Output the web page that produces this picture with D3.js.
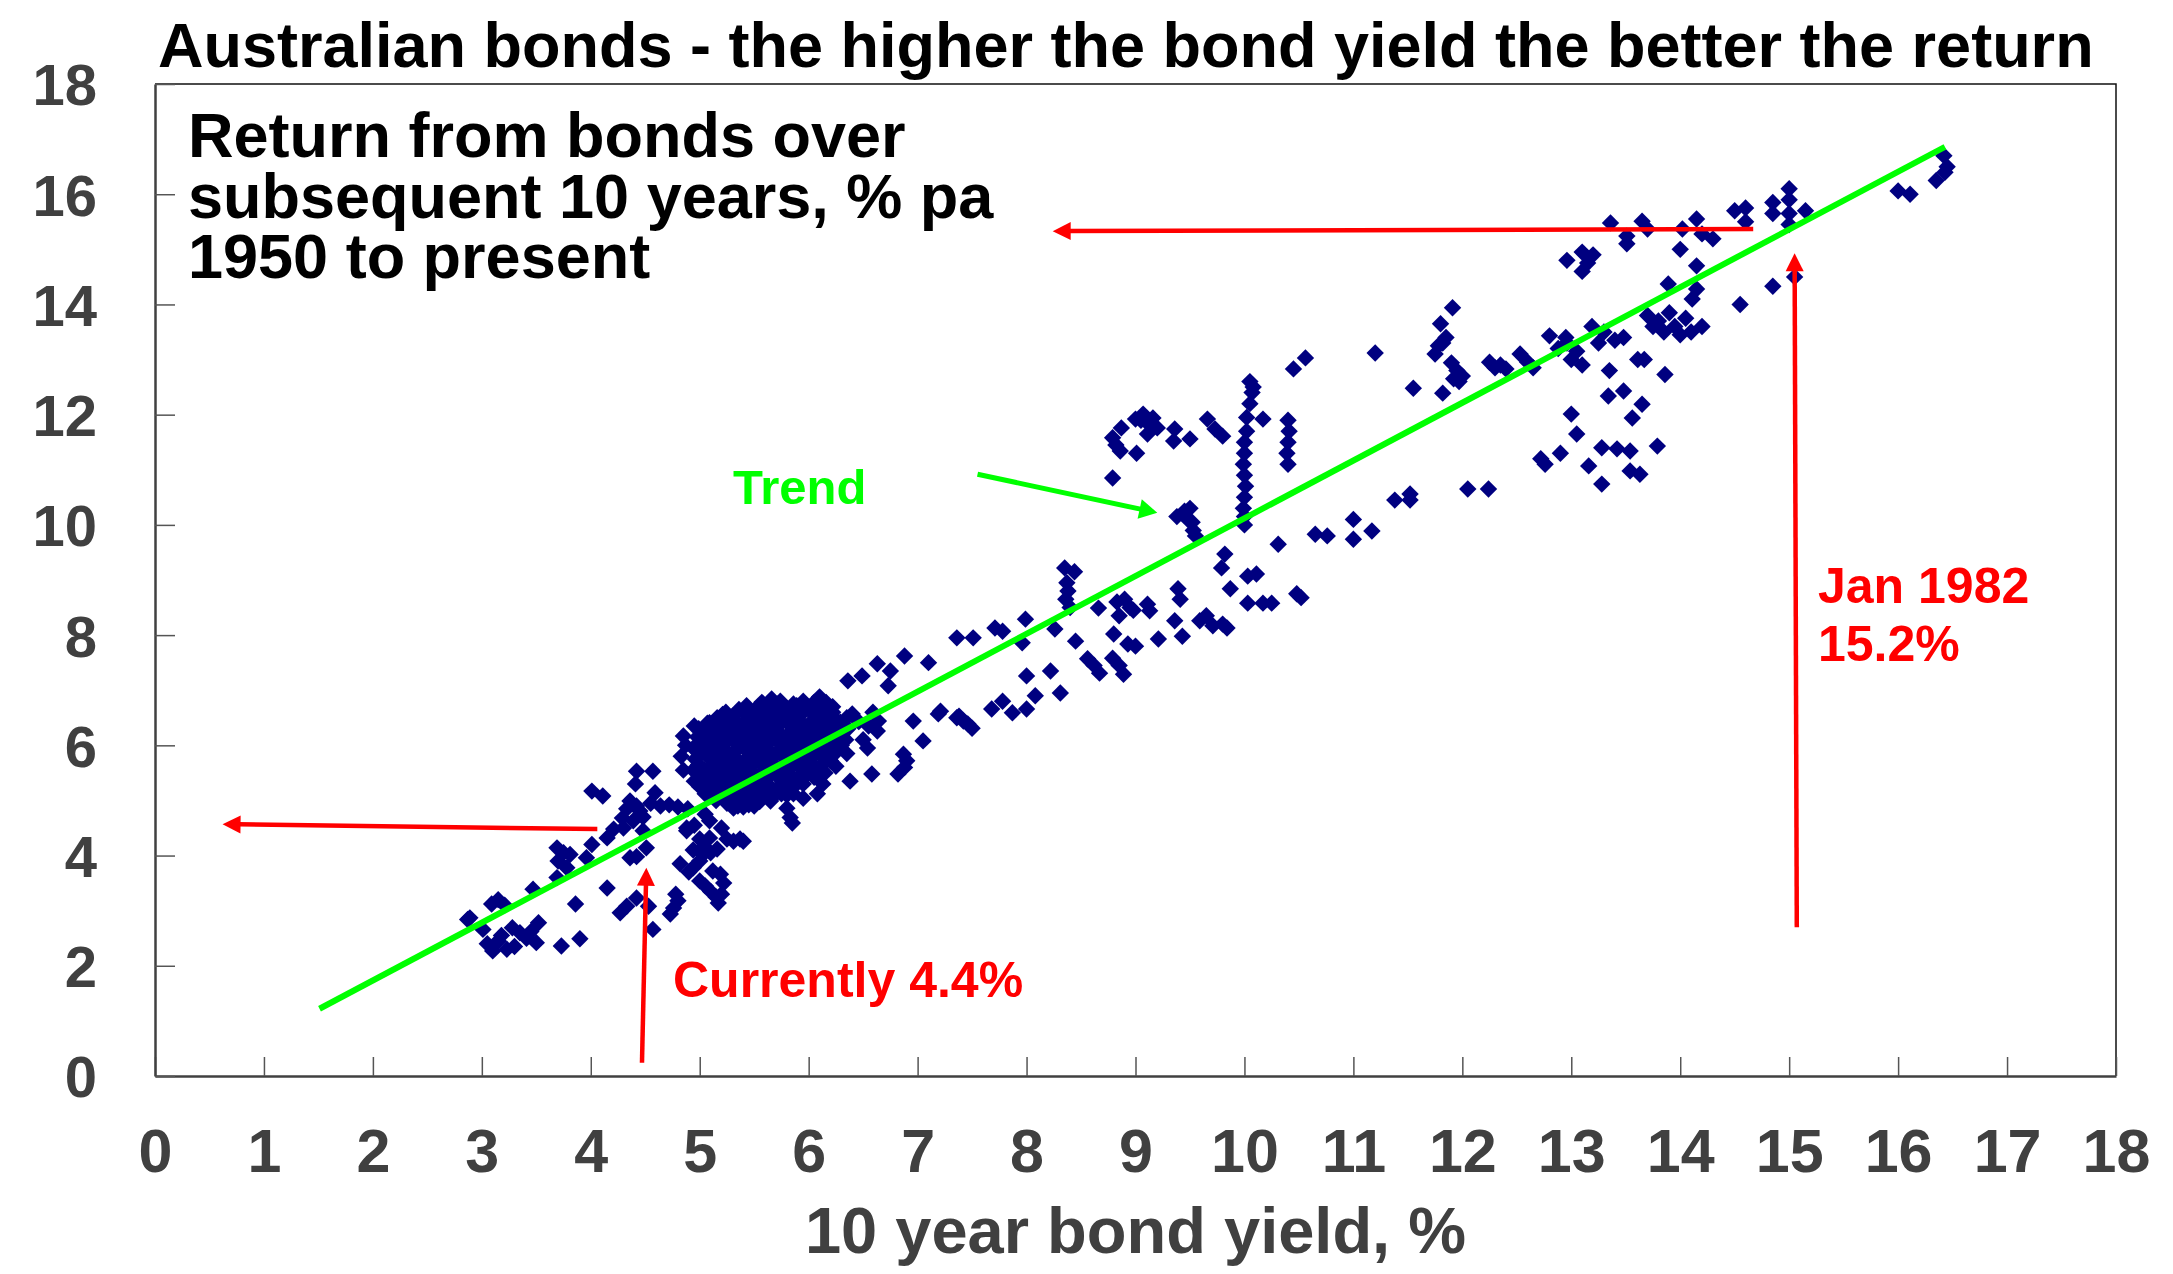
<!DOCTYPE html>
<html><head><meta charset="utf-8">
<script src="https://cdn.jsdelivr.net/npm/d3@7"></script>
<style>
html,body{margin:0;padding:0;background:#fff;}
svg{display:block;font-family:"Liberation Sans",Arial,Helvetica,sans-serif;font-weight:bold;}
</style>
</head><body>
<svg id="chart" width="2173" height="1274"></svg>
<script>
// ---------------- text ----------------
const chartTitle = "Australian bonds - the higher the bond yield the better the return";
const subtitleLines = ["Return from bonds over", "subsequent 10 years, % pa", "1950 to present"];
const xAxisTitle = "10 year bond yield, %";
const trendLabel = "Trend";
const currentLabel = "Currently 4.4%";
const peakLabelLines = ["Jan 1982", "15.2%"];

// ---------------- ticks ----------------
const xTickValues = [0,1,2,3,4,5,6,7,8,9,10,11,12,13,14,15,16,17,18];
const yTickValues = [0,2,4,6,8,10,12,14,16,18];

// ---------------- data: [10y bond yield %, subsequent 10y return % pa] ----------------
const lowYieldPoints = [
 [2.87,2.84],[2.89,2.87],[3.01,2.66],[3.09,3.12],[3.15,3.2],[3.21,3.1],[3.10,2.27],[3.15,2.45],
 [3.23,2.30],[3.28,2.69],[3.35,2.60],[3.41,2.50],[3.50,2.42],[3.52,2.78],[3.47,3.39],[3.05,2.4],
 [3.18,2.55],[3.3,2.35],[3.45,2.62],[3.69,4.14],[3.75,4.05],[3.81,4.02],[3.70,3.90],[3.78,3.78],
 [3.69,3.60],[3.96,3.96],[4.01,4.20],[3.86,3.12],[3.73,2.36],[3.90,2.49],[4.01,5.17],[4.11,5.08],
 [4.15,3.41],[4.15,4.32],[4.21,4.48]
];
const midLowPoints = [
 [4.29,4.68],[4.36,4.99],[4.45,4.81],[4.39,4.63],[4.48,4.45],[4.51,4.14],[4.36,3.96],[4.42,3.98],
 [4.42,5.53],[4.57,5.53],[4.41,5.30],[4.59,5.14],[4.27,2.96],[4.33,3.08],[4.42,3.23],[4.53,3.08],
 [4.57,2.66],[4.73,2.94],[4.76,3.05],[4.80,3.18],[4.78,3.3],[4.64,4.90],[4.72,4.92],[4.80,4.88],
 [4.89,4.85],[4.88,4.50],[4.33,4.85],[4.42,4.9],[4.3,4.5],[4.48,4.7],[4.55,4.95],
 [4.94,4.10],[5.03,4.15],[5.10,4.05],[5.16,4.12],[5.09,4.63],[5.09,4.32],[5.31,4.26],[5.40,4.26],
 [5.25,4.30],[5.03,4.02],[4.94,3.78],[5.12,3.72],[5.19,3.66],[4.88,4.45],[5.0,3.9],[4.82,3.85],
 [4.9,3.7],[5.0,3.54],[5.05,3.45],[5.1,3.35],[5.15,3.25],[5.17,3.14],[5.2,3.3],[5.22,3.5],
 [5.0,4.3],[4.95,4.55],[5.05,4.75],[5.2,4.5],[5.37,4.3]
];
const denseClusterPoints = [
 [4.85,5.55],[4.83,5.8],[4.87,6.0],[4.85,6.17],
 [4.95,5.35],[4.94,5.55],[4.96,5.75],[4.94,5.95],[4.98,6.15],[4.95,6.35],
 [5.05,5.12],[5.06,5.35],[5.04,5.55],[5.07,5.8],[5.05,6.0],[5.03,6.2],[5.07,6.4],
 [5.15,5.0],[5.14,5.22],[5.16,5.45],[5.13,5.65],[5.17,5.88],[5.15,6.08],[5.14,6.3],[5.16,6.5],
 [5.25,4.95],[5.26,5.18],[5.24,5.4],[5.27,5.6],[5.25,5.82],[5.23,6.05],[5.26,6.25],[5.28,6.45],[5.24,6.6],
 [5.35,4.9],[5.34,5.1],[5.36,5.33],[5.35,5.55],[5.33,5.77],[5.37,6.0],[5.35,6.2],[5.34,6.42],[5.36,6.65],
 [5.45,4.92],[5.44,5.15],[5.46,5.38],[5.45,5.6],[5.47,5.82],[5.44,6.02],[5.46,6.25],[5.45,6.48],[5.43,6.72],
 [5.55,4.98],[5.56,5.2],[5.54,5.42],[5.57,5.65],[5.55,5.88],[5.53,6.1],[5.56,6.3],[5.55,6.55],[5.57,6.78],
 [5.65,5.02],[5.64,5.25],[5.66,5.48],[5.65,5.7],[5.63,5.92],[5.67,6.15],[5.65,6.38],[5.64,6.6],[5.66,6.84],
 [5.75,5.12],[5.76,5.35],[5.74,5.55],[5.77,5.78],[5.75,6.0],[5.73,6.22],[5.76,6.45],[5.75,6.65],[5.74,6.8],
 [5.85,5.22],[5.84,5.45],[5.86,5.68],[5.85,5.9],[5.83,6.12],[5.87,6.35],[5.85,6.55],[5.86,6.75],
 [5.95,5.3],[5.96,5.52],[5.94,5.75],[5.97,5.98],[5.95,6.2],[5.93,6.42],[5.96,6.62],[5.95,6.8],
 [6.05,5.42],[6.04,5.65],[6.06,5.88],[6.05,6.1],[6.03,6.32],[6.07,6.55],[6.05,6.78],[6.1,6.88],
 [6.15,5.5],[6.16,5.72],[6.14,5.95],[6.17,6.18],[6.15,6.4],[6.13,6.6],[6.16,6.78],
 [6.25,5.62],[6.24,5.85],[6.26,6.08],[6.25,6.3],[6.23,6.5],[6.22,6.7],
 [6.35,5.85],[6.34,6.1],[6.36,6.3],[6.35,6.5],
 [5.31,4.86],[5.4,4.88],[5.5,4.9],[5.65,4.99],[5.80,4.86],[5.85,4.59],[5.86,5.12],[5.95,5.04],
 [6.08,5.12],[6.13,5.30],[6.38,5.35],[6.58,5.48],[5.83,4.69],[5.58,5.22],[5.8,5.1],[6.46,6.43],[6.59,6.6]
];
const denseClusterFill = [
 [5.00,5.25],[5.01,5.46],[4.99,5.65],[5.00,5.9],[5.02,6.1],[4.99,6.3],
 [5.10,5.1],[5.11,5.33],[5.09,5.56],[5.10,5.77],[5.12,5.98],[5.10,6.2],[5.09,6.41],
 [5.20,5.08],[5.21,5.3],[5.19,5.52],[5.20,5.74],[5.22,5.95],[5.20,6.17],[5.19,6.38],[5.21,6.56],
 [5.30,5.0],[5.31,5.22],[5.29,5.44],[5.30,5.66],[5.32,5.88],[5.30,6.1],[5.29,6.32],[5.31,6.54],
 [5.40,5.02],[5.41,5.25],[5.39,5.48],[5.40,5.7],[5.42,5.92],[5.40,6.13],[5.39,6.35],[5.41,6.58],
 [5.50,5.05],[5.51,5.28],[5.49,5.5],[5.50,5.75],[5.52,5.97],[5.50,6.18],[5.49,6.4],[5.51,6.65],
 [5.60,5.1],[5.61,5.32],[5.59,5.55],[5.60,5.8],[5.62,6.02],[5.60,6.25],[5.59,6.48],[5.61,6.7],
 [5.70,5.2],[5.71,5.45],[5.69,5.62],[5.70,5.85],[5.72,6.08],[5.70,6.3],[5.69,6.55],[5.71,6.75],
 [5.80,5.3],[5.81,5.55],[5.79,5.78],[5.80,6.0],[5.82,6.22],[5.80,6.42],[5.79,6.62],
 [5.90,5.4],[5.91,5.62],[5.89,5.85],[5.90,6.08],[5.92,6.3],[5.90,6.52],[5.89,6.72],
 [6.00,5.5],[6.01,5.75],[5.99,5.95],[6.00,6.2],[6.02,6.42],[6.00,6.65],
 [6.10,5.6],[6.11,5.82],[6.09,6.05],[6.10,6.28],[6.12,6.5],[6.10,6.7],
 [6.20,5.72],[6.21,5.95],[6.19,6.18],[6.20,6.4],[6.22,6.6],
 [6.30,6.0],[6.31,6.22],[6.29,6.42]
];
const midPoints = [
 [6.36,7.17],[6.49,7.26],[6.63,7.48],[6.75,7.35],[6.73,7.08],[6.88,7.62],[7.10,7.50],[7.36,7.95],
 [6.40,6.57],[6.64,6.44],[6.63,6.26],[6.54,5.95],[6.96,6.44],[7.19,6.57],[7.36,6.50],[7.05,6.08],
 [6.87,5.84],[6.90,5.72],[6.82,5.48],[6.88,5.6],[6.5,6.1],[6.55,6.35],[7.38,6.53],[7.46,6.39],
 [7.42,6.44],[7.5,6.31],[7.21,6.62],
 [7.51,7.95],[7.71,8.13],[7.78,8.07],[7.99,8.29],[7.96,7.86],[8.26,8.11],[8.45,7.89],
 [8.35,9.22],[8.44,9.15],[8.37,8.95],[8.38,8.8],[8.36,8.65],[8.40,8.5],[8.66,8.49],[8.83,8.6],
 [8.9,8.65],[8.95,8.5],[8.85,8.35],[8.98,8.45],[9.11,8.56],[9.13,8.44],[9.39,8.84],[9.41,8.65],
 [9.36,8.26],[9.43,7.98],[9.21,7.93],[8.80,8.02],[8.93,7.84],[9.0,7.8],[8.56,7.57],[8.62,7.45],
 [8.67,7.31],[8.79,7.58],[8.89,7.29],[8.85,7.45],[8.0,7.26],[8.22,7.35],[8.31,6.95],[8.08,6.9],
 [7.78,6.8],[7.68,6.66],[7.87,6.59],[8.0,6.66],
 [9.59,8.26],[9.65,8.35],[9.71,8.17],[9.84,8.13],[9.8,8.2],[9.82,9.47],[9.79,9.22],[9.87,8.84],
 [10.03,9.07],[10.11,9.11],[10.03,8.58],[10.17,8.58],[10.25,8.58],[10.31,9.65],[10.48,8.75],[10.52,8.68],
 [10.65,9.83],[10.76,9.8],[11.0,10.1],[11.0,9.74],[11.17,9.89],[11.38,10.45],[11.52,10.56],[11.52,10.45],
 [12.05,10.65],[12.24,10.65]
];
const upperMidPoints = [
 [9.38,10.15],[9.45,10.25],[9.5,10.3],[9.52,10.05],[9.53,9.9],[9.55,9.8],[9.48,10.1],[8.79,10.85],
 [8.79,11.58],[8.86,11.34],[8.87,11.76],[9.01,11.3],[9.0,11.92],[9.07,12.01],[9.12,11.83],[9.16,11.94],
 [9.2,11.76],[9.11,11.65],[9.05,11.9],[9.36,11.74],[9.35,11.52],[9.5,11.56],[9.66,11.92],[9.73,11.74],
 [9.8,11.61],[8.82,11.45],
 [10.0,11.5],[10.0,11.3],[9.99,11.1],[10.0,10.9],[10.01,10.7],[10.0,10.5],[9.99,10.3],[10.0,10.15],
 [10.0,10.0],[10.02,11.7],[10.05,12.6],[10.07,12.4],[10.05,12.2],[10.02,11.95],[10.17,11.92],[10.08,12.5],
 [10.4,11.9],[10.41,11.7],[10.4,11.5],[10.39,11.3],[10.4,11.1],[10.45,12.83],[10.56,13.03],[11.2,13.12]
];
const highYieldPoints = [
 [11.91,13.94],[11.8,13.65],[11.85,13.4],[11.78,13.25],[11.75,13.1],[11.82,13.3],[11.9,12.94],[11.95,12.8],
 [11.92,12.65],[12.0,12.7],[11.97,12.6],[11.55,12.48],[11.82,12.39],
 [12.25,12.95],[12.3,12.85],[12.35,12.9],[12.4,12.83],[12.53,13.1],[12.6,12.95],[12.65,12.85],[12.8,13.43],
 [12.95,13.4],[12.88,13.2],[13.0,13.0],[13.05,13.15],[13.1,12.9],[12.96,13.3],[13.19,13.6],[13.3,13.5],
 [13.25,13.3],[13.4,13.35],[13.48,13.4],[13.35,12.8],[13.61,13.0],[13.67,13.0],
 [13.7,13.8],[13.8,13.7],[13.9,13.85],[13.95,13.6],[14.05,13.75],[14.1,13.5],[14.2,13.6],[13.85,13.5],
 [14.0,13.45],[13.75,13.6],[13.86,12.73],
 [13.34,12.34],[13.48,12.43],[13.65,12.19],[13.56,11.94],[13.0,12.01],[13.05,11.65],[12.9,11.3],[12.76,11.1],
 [13.28,11.4],[13.42,11.38],[13.54,11.34],[13.79,11.43],[13.16,11.07],[13.54,10.98],[13.63,10.92],[13.28,10.74],
 [12.72,11.2]
];
const peakYieldPoints = [
 [12.96,14.8],[13.1,14.95],[13.2,14.9],[13.1,14.6],[13.15,14.75],[13.36,15.48],[13.51,15.24],[13.51,15.1],
 [13.65,15.51],[13.7,15.37],[14.15,15.55],[14.02,15.37],[14.2,15.28],[14.3,15.19],[14.0,15.0],[14.5,15.7],
 [14.6,15.75],[14.6,15.5],[15.0,16.1],[14.85,15.85],[15.0,15.9],[15.15,15.7],[15.0,15.65],[14.85,15.65],
 [15.0,15.45],[16.0,16.06],[16.11,16.0],[16.42,16.7],[16.45,16.5],[16.43,16.4],[16.35,16.25],[14.15,14.7],
 [13.89,14.37],[14.15,14.28],[14.11,14.1],[14.55,14.0],[14.85,14.33],[15.05,14.5]
];

// trend line end points (yield, return)
const trendLine = [[1.51,1.22],[16.43,16.86]];

// annotation arrows in data units: [from, to(arrow tip)]
const redArrows = [
 [[4.47,0.24],[4.51,3.78]],
 [[4.06,4.48],[0.62,4.57]],
 [[15.07,2.70],[15.05,14.93]],
 [[14.67,15.37],[8.24,15.33]]
];
const greenArrow = [[7.55,10.92],[9.20,10.22]];

// ---------------- drawing ----------------
const W = 2173, H = 1274;
const plot = {left:155, right:2116, top:84, bottom:1076};
const svg = d3.select("#chart");
svg.append("rect").attr("width",W).attr("height",H).attr("fill","#fff");

const x = d3.scaleLinear().domain([0,18]).range([plot.left, plot.right]);
const y = d3.scaleLinear().domain([0,18]).range([plot.bottom, plot.top]);

// frame (top & right)
svg.append("path")
  .attr("d", `M${plot.left},${plot.top}H${plot.right}V${plot.bottom}`)
  .attr("fill","none").attr("stroke","#111").attr("stroke-width",1.5);

// x axis
const gx = svg.append("g").attr("transform",`translate(0,${plot.bottom})`)
  .call(d3.axisBottom(x).tickValues(xTickValues).tickSizeInner(-19).tickSizeOuter(0).tickFormat(d3.format("d")));
gx.select(".domain").attr("stroke","#404040").attr("stroke-width",2.5);
gx.selectAll(".tick line").attr("stroke","#555").attr("stroke-width",1.5);
gx.selectAll(".tick text").attr("y",74).attr("dy","0.36em")
  .attr("fill","#404040").style("font-size","61px").style("font-weight","bold")
  .style("font-family",'"Liberation Sans",Arial,sans-serif');

// y axis
const gy = svg.append("g").attr("transform",`translate(${plot.left},0)`)
  .call(d3.axisLeft(y).tickValues(yTickValues).tickSizeInner(-20).tickSizeOuter(0).tickFormat(d3.format("d")));
gy.select(".domain").attr("stroke","#404040").attr("stroke-width",2.5);
gy.selectAll(".tick line").attr("stroke","#555").attr("stroke-width",1.5);
gy.selectAll(".tick text").attr("x",-58).attr("dy","0.36em").attr("text-anchor","end")
  .attr("fill","#404040").style("font-size","58px").style("font-weight","bold")
  .style("font-family",'"Liberation Sans",Arial,sans-serif');

// points
const allPoints = [].concat(lowYieldPoints, midLowPoints, denseClusterPoints, denseClusterFill, midPoints, upperMidPoints, highYieldPoints, peakYieldPoints);
const r = 8.7;
svg.append("g").selectAll("path").data(allPoints).join("path")
  .attr("d", d => `M${x(d[0])},${y(d[1])-r}L${x(d[0])+r},${y(d[1])}L${x(d[0])},${y(d[1])+r}L${x(d[0])-r},${y(d[1])}Z`)
  .attr("fill","#000080");

// trend line
const line = d3.line().x(d => x(d[0])).y(d => y(d[1]));
svg.append("path").datum(trendLine).attr("d", line)
  .attr("stroke","#00ff00").attr("stroke-width",6).attr("fill","none");

// arrows
function arrow(seg, color, width, headW, headL){
  const [a,b] = seg;
  const x1 = x(a[0]), y1 = y(a[1]), x2 = x(b[0]), y2 = y(b[1]);
  const ang = Math.atan2(y2-y1, x2-x1);
  const bx = x2 - headL*Math.cos(ang), by = y2 - headL*Math.sin(ang);
  const g = svg.append("g");
  g.append("line").attr("x1",x1).attr("y1",y1).attr("x2",bx+2*Math.cos(ang)).attr("y2",by+2*Math.sin(ang))
    .attr("stroke",color).attr("stroke-width",width);
  const px = -Math.sin(ang)*headW/2, py = Math.cos(ang)*headW/2;
  g.append("path").attr("d",`M${x2},${y2}L${bx+px},${by+py}L${bx-px},${by-py}Z`).attr("fill",color);
}
redArrows.forEach(s => arrow(s, "#ff0000", 4.5, 18, 18));
arrow(greenArrow, "#00ff00", 5, 20, 18);

// texts
svg.append("text").attr("x",158).attr("y",67).attr("fill","#000")
  .style("font-size","63px").text(chartTitle);
const sub = svg.append("text").attr("x",188).attr("y",157).attr("fill","#000").style("font-size","63px");
sub.selectAll("tspan").data(subtitleLines).join("tspan")
  .attr("x",188).attr("y",(d,i)=>157+i*60.5).text(d=>d);
svg.append("text").attr("x",(plot.left+plot.right)/2).attr("y",1253).attr("text-anchor","middle")
  .attr("fill","#404040").style("font-size","65px").text(xAxisTitle);
svg.append("text").attr("x",733).attr("y",504).attr("fill","#00ff00").style("font-size","49px").text(trendLabel);
svg.append("text").attr("x",673).attr("y",997).attr("fill","#ff0000").style("font-size","50px").text(currentLabel);
const peak = svg.append("text").attr("x",1818).attr("y",603).attr("fill","#ff0000").style("font-size","50px");
peak.selectAll("tspan").data(peakLabelLines).join("tspan")
  .attr("x",1818).attr("y",(d,i)=>603+i*58).text(d=>d);
</script>
</body></html>
